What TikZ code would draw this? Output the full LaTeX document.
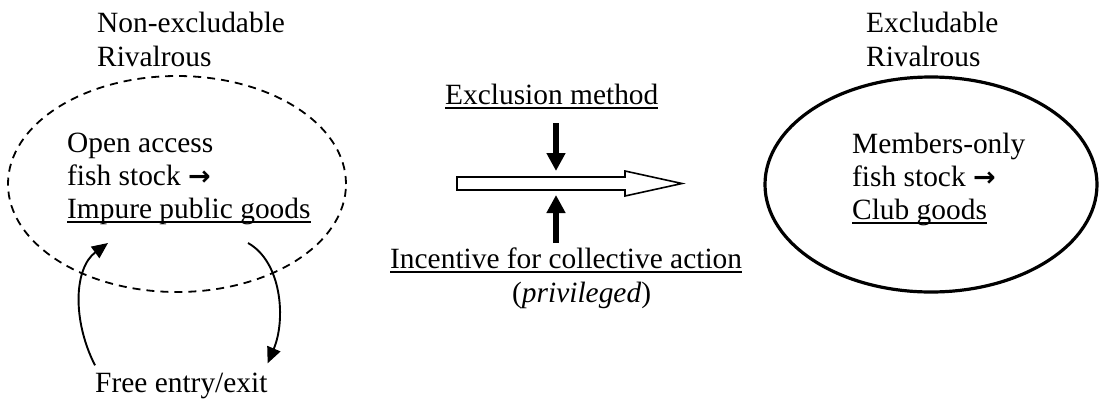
\documentclass[tikz,border=0pt]{standalone}
\usepackage{fontspec}
\setmainfont{Liberation Serif}
\newfontfamily\arrowfont{DejaVu Sans}
\usetikzlibrary{arrows.meta,shapes.geometric}
\newcommand\myul[1]{\sbox0{#1}\rlap{\rule[-4.5pt]{\wd0}{1.8pt}}\usebox0}
\newcommand\rarr{{\arrowfont\bfseries\fontsize{27}{34}\selectfont →}}
\begin{document}
\begin{tikzpicture}[x=1pt,y=-1pt,
  txt/.style={anchor=base west,inner sep=0pt,font=\fontsize{29.4}{34}\selectfont},
  openell/.style={ellipse,draw,dashed,dash pattern=on 8pt off 6pt,line width=1.8pt,inner sep=0pt},
  clubell/.style={ellipse,draw,line width=3.2pt,inner sep=0pt},
  curvearrow/.style={line width=1.9pt,-{Triangle[length=16pt,width=14pt]}},
  blockarrow/.style={line width=6pt,-{Triangle[length=18pt,width=18pt]}},
  hollowarrow/.style={line width=1.6pt,fill=white,line join=miter}]
\useasboundingbox (0,0) rectangle (1101,400);

% ellipses
\node[openell,minimum width=338pt,minimum height=216pt] (openE) at (177,184) {};
\node[clubell,minimum width=332pt,minimum height=215pt] (clubE) at (931,184.5) {};

% left texts
\node[txt] (ne1) at (97,32) {Non-excludable};
\node[txt] (ne2) at (97,66) {Rivalrous};
\node[txt] (oa1) at (67,152) {Open access};
\node[txt] (oa2) at (67,185) {fish stock \rarr};
\node[txt] (oa3) at (67,218) {\myul{Impure public goods}};
\node[txt] (fe) at (95,392) {Free entry/exit};

% right texts
\node[txt] (ex1) at (866,32) {Excludable};
\node[txt] (ex2) at (866,66) {Rivalrous};
\node[txt] (mo1) at (852,153) {Members-only};
\node[txt] (mo2) at (852,186) {fish stock \rarr};
\node[txt] (mo3) at (852,219) {\myul{Club goods}};

% middle texts
\node[txt] (exm) at (445,104) {\myul{Exclusion method}};
\node[txt] (inc) at (390,268) {\myul{Incentive for collective action}};
\node[txt] (prv) at (512,302) {(\textit{privileged})};

% hollow arrow
\draw[hollowarrow] (457,177) -- (625,177) -- (625,171) -- (682,183.5) -- (625,196) -- (625,190) -- (457,190) -- cycle;

% vertical block arrows
\coordinate (dTop) at (556,123);
\coordinate (dTip) at (556,171);
\coordinate (uBot) at (556,243);
\coordinate (uTip) at (556,195);
\draw[blockarrow] (dTop) -- (dTip);
\draw[blockarrow] (uBot) -- (uTip);

% entry / exit arrows
\coordinate (entryEnd) at (108,243);
\coordinate (exitStart) at (248,243);
\draw[curvearrow] ([yshift=7pt]fe.north west) .. controls (72,320) and (74,268) .. (entryEnd);
\draw[curvearrow] (exitStart) .. controls (282,262) and (286,320) .. ([yshift=9pt]fe.north east);
\end{tikzpicture}
\end{document}
